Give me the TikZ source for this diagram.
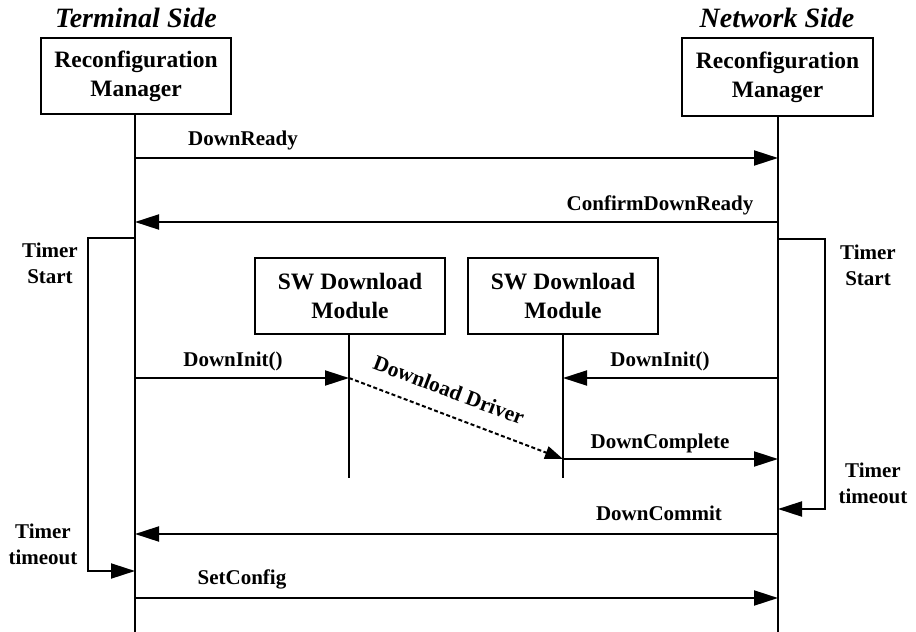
\documentclass[tikz,border=0pt]{standalone}
\usepackage{fontspec}
\setmainfont{Liberation Serif}
\usetikzlibrary{arrows.meta}

\begin{document}
\begin{tikzpicture}[x=1pt,y=-1pt,
  box/.style={draw, line width=2.4pt, minimum width=190pt, minimum height=76pt,
    inner sep=0pt, align=center, font=\fontsize{23.5}{29}\selectfont\bfseries},
  title/.style={inner sep=0pt, anchor=base, font=\fontsize{28}{32}\selectfont\bfseries\itshape},
  lbl/.style={inner sep=0pt, anchor=base, align=center, font=\fontsize{21}{26}\selectfont\bfseries},
  life/.style={line width=2.6pt},
  sublife/.style={line width=2pt},
  msg/.style={line width=2pt, -{Triangle[length=24pt,width=15pt]}},
  timer/.style={line width=2pt, -{Triangle[length=24pt,width=15pt]}},
  drv/.style={line width=2pt, dash pattern=on 4pt off 2.5pt, -{Triangle[length=18pt,width=13pt]}}]
\useasboundingbox (0,0) rectangle (916,632);

% column headings
\node[title] (tside) at (136,27) {Terminal Side};
\node[title] (nside) at (777,27) {Network Side};

% participants
\node[box] (trm) at (136,76) {Reconfiguration\\Manager};
\node[box, minimum width=191pt, minimum height=78pt] (nrm) at (777.5,77) {Reconfiguration\\Manager};
\node[box] (tsw) at (350,296) {SW Download\\Module};
\node[box] (nsw) at (563,296) {SW Download\\Module};

% lifeline ends
\coordinate (tend) at (135,632);
\coordinate (nend) at (778,632);
\coordinate (tswend) at (349,478);
\coordinate (nswend) at (563,478);

\draw[life] (trm.south -| tend) -- (tend);
\draw[life] (nrm.south -| nend) -- (nend);
\draw[sublife] (tsw.south -| tswend) -- (tswend);
\draw[sublife] (nsw.south -| nswend) -- (nswend);

% message end points on the lifelines
\coordinate (t1) at (135,158);  \coordinate (n1) at (778,158);
\coordinate (t2) at (135,222);  \coordinate (n2) at (778,222);
\coordinate (t3) at (135,378);  \coordinate (s3) at (349,378);
\coordinate (n3) at (778,378);  \coordinate (w3) at (563,378);
\coordinate (w4) at (563,459);  \coordinate (n4) at (778,459);
\coordinate (t5) at (135,534);  \coordinate (n5) at (778,534);
\coordinate (t6) at (135,598);  \coordinate (n6) at (778,598);

% messages
\draw[msg] (t1) -- (n1);
\node[lbl] (l1) at (243,145) {DownReady};
\draw[msg] (n2) -- (t2);
\node[lbl] (l2) at (660,210) {ConfirmDownReady};
\draw[msg] (t3) -- (s3);
\node[lbl] (l3) at (233,366) {DownInit()};
\draw[msg] (n3) -- (w3);
\node[lbl] (l4) at (660,366) {DownInit()};
\draw[drv] (s3) -- (w4);
\node[inner sep=0pt, rotate=-20.7, font=\fontsize{21.5}{26}\selectfont\bfseries] (l5) at (449,390) {Download Driver};
\draw[msg] (w4) -- (n4);
\node[lbl] (l6) at (660,448) {DownComplete};
\draw[msg] (n5) -- (t5);
\node[lbl] (l7) at (659,520) {DownCommit};
\draw[msg] (t6) -- (n6);
\node[lbl] (l8) at (242,584) {SetConfig};

% timers
\coordinate (ta) at (135,238); \coordinate (tb) at (135,571);
\coordinate (na) at (778,239); \coordinate (nb) at (778,509);
\draw[timer] (ta) -- (88,238) -- (88,571) -- (tb);
\draw[timer] (na) -- (825,239) -- (825,509) -- (nb);
\node[lbl] (tt1) at (50,283) {Timer\\Start};
\node[lbl] (tt2) at (868,285) {Timer\\Start};
\node[lbl] (tt3) at (43,564) {Timer\\timeout};
\node[lbl] (tt4) at (873,503) {Timer\\timeout};
\end{tikzpicture}
\end{document}
